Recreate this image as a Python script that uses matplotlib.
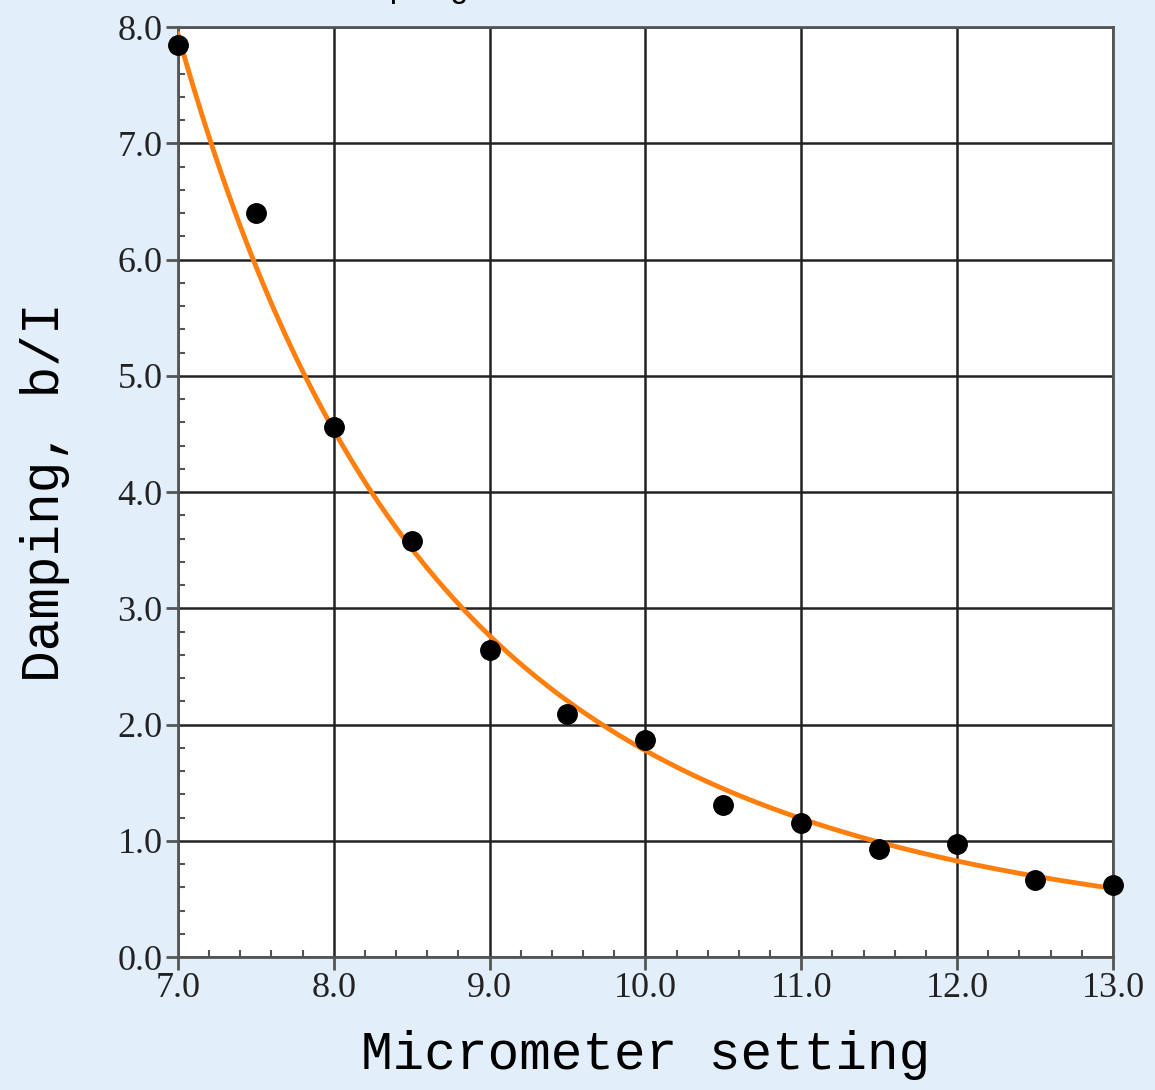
import numpy as np
import matplotlib.pyplot as plt
from matplotlib.ticker import MultipleLocator, FormatStrFormatter

# micrometer setting vs damping b/I
micrometer = np.array([7.0, 7.5, 8.0, 8.5, 9.0, 9.5, 10.0, 10.5, 11.0, 11.5, 12.0, 12.5, 13.0])
damping = np.array([7.85, 6.40, 4.56, 3.58, 2.64, 2.09, 1.87, 1.31, 1.15, 0.93, 0.97, 0.66, 0.62])

# power-law fit b/I = A * x^-n, done in log-log space
n_fit, logA = np.polyfit(np.log(micrometer), np.log(damping), 1)
xs = np.linspace(micrometer.min(), micrometer.max(), 300)
ys = np.exp(logA) * xs ** n_fit

bg = '#e3eefb'
fig = plt.figure(figsize=(11.55, 10.9), dpi=100, facecolor=bg)
ax = fig.add_axes([0.154, 0.122, 0.8096, 0.853])
ax.set_facecolor('white')

ax.plot(xs, ys, color='#ff7f0e', lw=3.5, zorder=3)
ax.plot(micrometer, damping, 'o', color='black', ms=14, zorder=4, clip_on=False)

ax.set_xlim(7, 13)
ax.set_ylim(0, 8)
ax.xaxis.set_major_locator(MultipleLocator(1))
ax.yaxis.set_major_locator(MultipleLocator(1))
ax.xaxis.set_minor_locator(MultipleLocator(0.2))
ax.yaxis.set_minor_locator(MultipleLocator(0.2))
ax.xaxis.set_major_formatter(FormatStrFormatter('%.1f'))
ax.yaxis.set_major_formatter(FormatStrFormatter('%.1f'))

ax.grid(True, which='major', color='#222222', lw=1.8, zorder=1)
for s in ax.spines.values():
    s.set_color('#555555')
    s.set_linewidth(2)

ax.tick_params(which='major', direction='out', length=9, width=2, color='#555555',
               labelsize=26, pad=2)
ax.tick_params(which='minor', direction='in', length=5, width=1.5, color='#555555')
for lab in ax.get_xticklabels() + ax.get_yticklabels():
    lab.set_fontfamily('Liberation Serif')
    lab.set_color('#222222')

ax.set_xlabel('Micrometer setting', family='Liberation Mono', fontsize=38, labelpad=18)
ax.set_ylabel('Damping, b/I', family='Liberation Mono', fontsize=38, labelpad=34)

# title sits mostly above the canvas
fig.text(0.475, 1.003, 'Damping vs. Micrometer', family='Liberation Mono', fontsize=24,
         ha='center', va='baseline')

fig.savefig('out.png', dpi=100, facecolor=bg)
